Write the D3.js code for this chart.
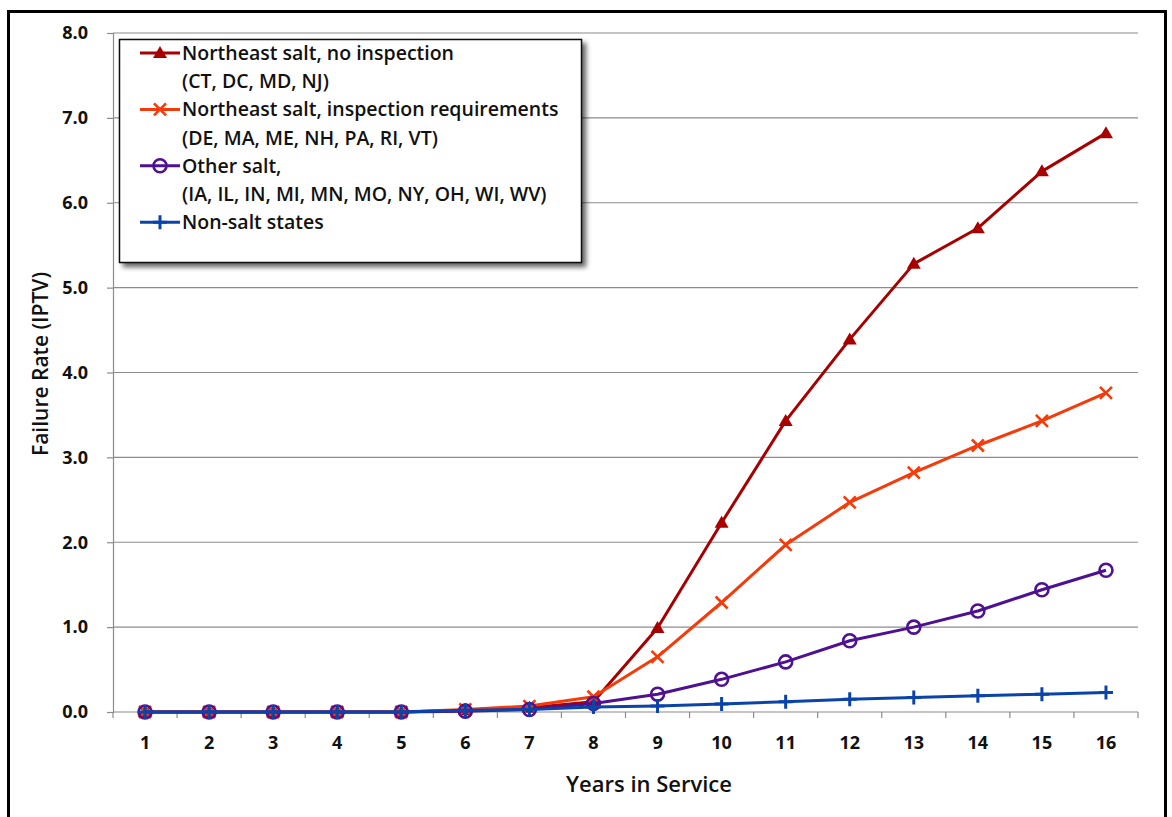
<!DOCTYPE html>
<html>
<head>
<meta charset="utf-8">
<script src="https://cdn.jsdelivr.net/npm/d3@7"></script>
<style>
  html, body { margin: 0; padding: 0; background: #fff; }
  svg { display: block; font-family: "Open Sans", Lato, sans-serif; }
</style>
</head>
<body>
<svg id="chart" width="1172" height="817"></svg>
<script>
// Years in service (category axis)
const years = [1, 2, 3, 4, 5, 6, 7, 8, 9, 10, 11, 12, 13, 14, 15, 16];

// Failure rate (IPTV) per region group
const neNoInspection = [0, 0, 0, 0, 0, 0.02, 0.05, 0.12, 0.99, 2.23, 3.43, 4.39, 5.28, 5.70, 6.37, 6.82];
const neInspection   = [0, 0, 0, 0, 0, 0.03, 0.07, 0.18, 0.65, 1.29, 1.97, 2.47, 2.82, 3.14, 3.43, 3.76];
const otherSalt      = [0, 0, 0, 0, 0, 0.01, 0.03, 0.10, 0.21, 0.385, 0.59, 0.84, 1.00, 1.19, 1.44, 1.67];
const nonSalt        = [0, 0, 0, 0, 0, 0.02, 0.03, 0.06, 0.07, 0.095, 0.12, 0.15, 0.17, 0.19, 0.21, 0.23];

const yTicks = [0, 1, 2, 3, 4, 5, 6, 7, 8];

const seriesNames = [
  ["Northeast salt, no inspection", "(CT, DC, MD, NJ)"],
  ["Northeast salt, inspection requirements", "(DE, MA, ME, NH, PA, RI, VT)"],
  ["Other salt,", "(IA, IL, IN, MI, MN, MO, NY, OH, WI, WV)"],
  ["Non-salt states"]
];

const series = [
  { values: neNoInspection, color: "#A80000", marker: "triangle" },
  { values: neInspection,   color: "#F63A0A", marker: "cross" },
  { values: otherSalt,      color: "#4E1192", marker: "circle" },
  { values: nonSalt,        color: "#0B44A8", marker: "plus" }
];

const svg = d3.select("#chart");

// Outer frame
svg.append("rect")
  .attr("x", 8.5).attr("y", 11.5)
  .attr("width", 1157).attr("height", 830)
  .attr("fill", "#fff").attr("stroke", "#000").attr("stroke-width", 3);

const plot = { left: 113, right: 1138, top: 33, bottom: 712 };

const x = d3.scaleBand().domain(years).range([plot.left, plot.right]).padding(0);
const y = d3.scaleLinear().domain([0, 8]).range([plot.bottom, plot.top]);
const cx = d => x(d) + x.bandwidth() / 2;

// Horizontal gridlines
svg.append("g")
  .selectAll("line")
  .data(yTicks.filter(t => t > 0))
  .join("line")
  .attr("x1", plot.left).attr("x2", plot.right)
  .attr("y1", d => y(d)).attr("y2", d => y(d))
  .attr("stroke", "#8c8c8c").attr("stroke-width", 1.2);

// Y axis
const yAxis = svg.append("g")
  .attr("transform", `translate(${plot.left},0)`)
  .call(d3.axisLeft(y).tickValues(yTicks).tickFormat(d3.format(".1f")).tickSize(6).tickPadding(19));
yAxis.select(".domain").attr("stroke", "#8c8c8c").attr("stroke-width", 1.2);
yAxis.selectAll(".tick line").attr("stroke", "#8c8c8c").attr("stroke-width", 1.2);
yAxis.selectAll(".tick text")
  .attr("font-size", 18).attr("font-weight", 700).attr("fill", "#111")
  .attr("font-family", "'Open Sans', sans-serif");

// X axis with tick marks between categories
const xAxisG = svg.append("g").attr("transform", `translate(0,${plot.bottom})`);
xAxisG.append("line")
  .attr("x1", plot.left).attr("x2", plot.right)
  .attr("stroke", "#8c8c8c").attr("stroke-width", 1.2);
xAxisG.selectAll("line.sep")
  .data(years.concat([null]))
  .join("line")
  .attr("class", "sep")
  .attr("x1", (d, i) => plot.left + i * x.bandwidth())
  .attr("x2", (d, i) => plot.left + i * x.bandwidth())
  .attr("y1", 0).attr("y2", 6)
  .attr("stroke", "#8c8c8c").attr("stroke-width", 1.2);
xAxisG.selectAll("text")
  .data(years)
  .join("text")
  .attr("x", d => cx(d)).attr("y", 37)
  .attr("text-anchor", "middle")
  .attr("font-size", 18).attr("font-weight", 700).attr("fill", "#111")
  .text(d => d);

// Axis titles
svg.append("text")
  .attr("x", 649).attr("y", 792)
  .attr("text-anchor", "middle")
  .attr("font-size", 22).attr("font-weight", 600).attr("fill", "#111")
  .text("Years in Service");

svg.append("text")
  .attr("transform", "translate(48,364) rotate(-90)")
  .attr("text-anchor", "middle")
  .attr("font-size", 21).attr("font-weight", 600).attr("fill", "#111")
  .text("Failure Rate (IPTV)");

// Marker drawing
function drawMarker(g, type, color) {
  if (type === "triangle") {
    g.append("path").attr("d", "M0,-7 L7,5 L-7,5 Z").attr("fill", color);
  } else if (type === "cross") {
    g.append("path").attr("d", "M-6,-6 L6,6 M-6,6 L6,-6")
      .attr("stroke", color).attr("stroke-width", 2.6).attr("fill", "none");
  } else if (type === "circle") {
    g.append("circle").attr("r", 6.5)
      .attr("stroke", color).attr("stroke-width", 2.6).attr("fill", "none");
  } else if (type === "plus") {
    g.append("path").attr("d", "M-7,0 L7,0 M0,-7 L0,7")
      .attr("stroke", color).attr("stroke-width", 3).attr("fill", "none");
  }
}

const line = d3.line().x((d, i) => cx(years[i])).y(d => y(d));

series.forEach(s => {
  const g = svg.append("g");
  g.append("path")
    .attr("d", line(s.values))
    .attr("fill", "none").attr("stroke", s.color)
    .attr("stroke-width", 3).attr("stroke-linejoin", "round");
  s.values.forEach((v, i) => {
    const m = g.append("g").attr("transform", `translate(${cx(years[i])},${y(v)})`);
    drawMarker(m, s.marker, s.color);
  });
});

// Legend
const defs = svg.append("defs");
const f = defs.append("filter").attr("id", "shadow").attr("x", "-10%").attr("y", "-10%").attr("width", "130%").attr("height", "130%");
f.append("feGaussianBlur").attr("in", "SourceAlpha").attr("stdDeviation", 2.5);
f.append("feOffset").attr("dx", 4).attr("dy", 4).attr("result", "ob");
f.append("feComponentTransfer").append("feFuncA").attr("type", "linear").attr("slope", 0.6);
const fm = f.append("feMerge");
fm.append("feMergeNode");
fm.append("feMergeNode").attr("in", "SourceGraphic");

const legend = svg.append("g");
legend.append("rect")
  .attr("x", 119.5).attr("y", 39.5)
  .attr("width", 462).attr("height", 223)
  .attr("fill", "#fff").attr("stroke", "#111").attr("stroke-width", 1.5)
  .attr("filter", "url(#shadow)");

const rowStart = 53;
const rowStep = 28.2;
let row = 0;
series.forEach((s, k) => {
  const yy = rowStart + row * rowStep;
  legend.append("line")
    .attr("x1", 140).attr("x2", 180).attr("y1", yy).attr("y2", yy)
    .attr("stroke", s.color).attr("stroke-width", 3);
  const m = legend.append("g").attr("transform", `translate(160,${yy})`);
  drawMarker(m, s.marker, s.color);
  seriesNames[k].forEach((t, j) => {
    legend.append("text")
      .attr("x", 182).attr("y", rowStart + (row + j) * rowStep)
      .attr("dy", "0.36em")
      .attr("font-size", 19.5).attr("font-weight", 600).attr("fill", "#111")
      .text(t);
  });
  row += seriesNames[k].length;
});
</script>
</body>
</html>
